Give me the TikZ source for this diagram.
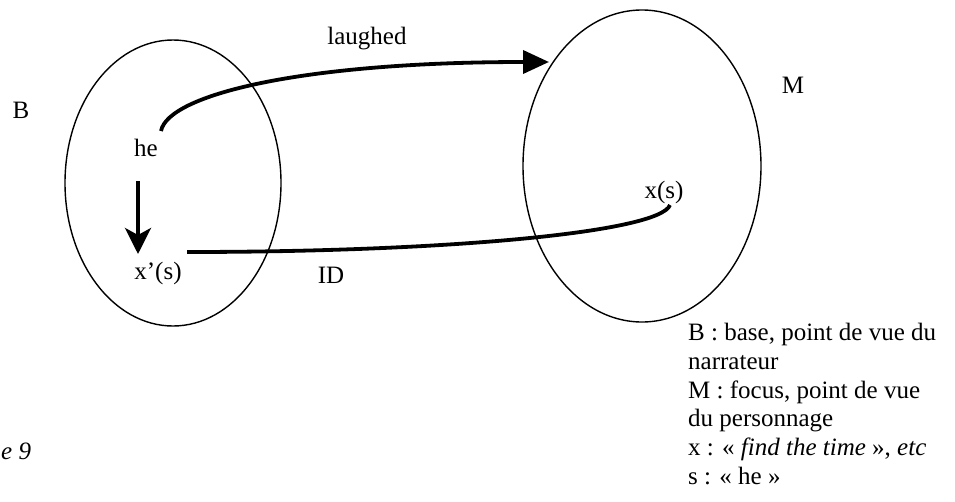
\documentclass[tikz,border=0pt]{standalone}
\usepackage{fontspec}
\setmainfont{Liberation Serif}
\usetikzlibrary{arrows.meta}
\begin{document}
\begin{tikzpicture}[x=1pt,y=-1pt,
  txt/.style={inner sep=0pt,font=\fontsize{25}{28.75}\selectfont},
  set/.style={draw,line width=1.4pt},
  thick arrow/.style={line width=3.8pt}]
\useasboundingbox (0,0) rectangle (955,501);
% ellipses
\draw[set] (173,183) ellipse [x radius=108, y radius=143];
\draw[set] (642,166) ellipse [x radius=119, y radius=156];
% texts
\node[txt] (B) at (21,110) {B};
\node[txt] (M) at (793,85) {M};
\node[txt] (laughed) at (367,39) {laughed};
\node[txt] (he) at (146,148) {he};
\node[txt] (xp) at (158,273) {x’(s)};
\node[txt] (xs) at (664,192) {x(s)};
\node[txt] (ID) at (331,275) {ID};
\node[txt,anchor=west] (fig) at (1,451) {\itshape e 9};
\node[txt,anchor=north west,align=left] (legend) at (688,323)
  {B : base, point de vue du\\ narrateur\\ M : focus, point de vue\\ du personnage\\ x : « \textit{find the time} », \textit{etc}\\ s : « he »};
% connectors
\coordinate (lstart) at (161,131);
\coordinate (ltip) at (549,62);
\draw[thick arrow,-{Triangle[length=26pt,width=23pt]}] (lstart) .. controls (168,95) and (300,62) .. (ltip);
\coordinate (dstart) at (138,181);
\coordinate (dtip) at (138,254);
\draw[thick arrow,-{Stealth[length=26pt,width=26pt,inset=7pt]}] (dstart) -- (dtip);
\coordinate (idstart) at (187,252);
\coordinate (idend) at (670,205);
\draw[thick arrow] (idstart) .. controls (450,252) and (660,232) .. (idend);
\end{tikzpicture}
\end{document}
